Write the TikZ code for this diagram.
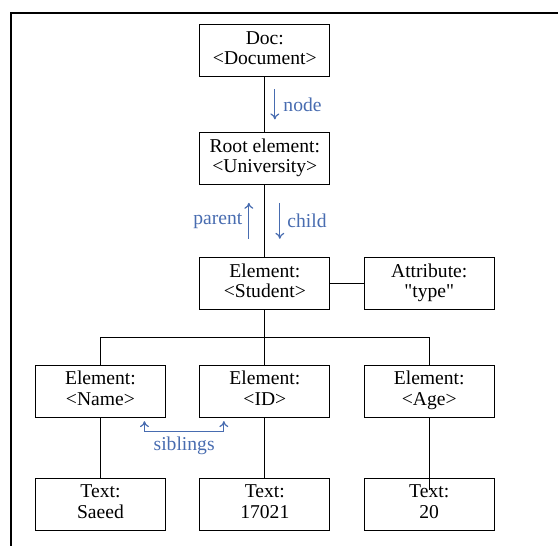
\documentclass[tikz,border=0pt]{standalone}
\usepackage{fontspec}
\setmainfont{Liberation Serif}[Ligatures=TeXOff]
\usetikzlibrary{matrix, calc, arrows.meta}

\definecolor{domblue}{RGB}{72,108,176}
\newcommand{\twoline}[2]{\begin{tabular}{@{}c@{}}#1\\#2\end{tabular}}

\begin{document}
\begin{tikzpicture}[
				x=1pt, y=1pt,
				font=\fontsize{19.6}{20.6}\selectfont,
				>={To[length=6pt, width=9pt]},
				box/.style={draw, line width=0.9pt, minimum width=130pt, minimum height=52pt, inner sep=0pt, anchor=center},
				link/.style={line width=0.8pt},
				ptr/.style={->, line width=1.2pt, domblue},
				tag/.style={text=domblue, inner sep=0pt}
				]
				
				\useasboundingbox (0,0) rectangle (558,-546);
				% frame: only the top and left edges show
				\draw[line width=2.2pt] (10.6,-546) -- (10.6,-12.8) -- (558,-12.8);
				
				\matrix (tree) [matrix of nodes, ampersand replacement=\&, column sep=33.5pt, row sep=55pt,
					anchor=north west, inner sep=0pt, outer sep=0pt] at (35,-24)
				{
					\& |[box] (doc)| \twoline{Doc:}{<Document>} \& \\
					\& |[box] (root)| \twoline{Root element:}{<University>} \& \\[17pt]
					\& |[box] (student)| \twoline{Element:}{<Student>} \& 
					|[box] (attr)| \twoline{Attribute:}{"type"} \\
					|[box] (name)| \twoline{Element:}{<Name>} \& 
					|[box] (id)| \twoline{Element:}{<ID>} \& 
					|[box] (age)| \twoline{Element:}{<Age>} \\[5pt]
					|[box] (t1)| \twoline{Text:}{Saeed} \& 
					|[box] (t2)| \twoline{Text:}{17021} \& 
					|[box] (t3)| \twoline{Text:}{20} \\
				};
				
				\draw[link] (doc) -- (root);
				\draw[link] (root) -- (student);
				\draw[link] (student) -- (attr);
				\draw[link] (student) -- (id);
				\draw[link] (name.north) |- ($(student.south)!.5!(id.north)$) -| (age.north);
				\draw[link] (name) -- (t1);
				\draw[link] (id) -- (t2);
				\draw[link] (age.south) -- ([yshift=-12pt]t3.north);
				
				% navigation hints
				\draw[ptr] ($(doc.south)!.5!(root.north)+(10,15)$) -- ++(0,-30)
					node[midway, right=8pt, tag] {node};
				\draw[ptr] ($(root.south)!.5!(student.north)+(-16,-18)$) -- ++(0,36)
					node[midway, left=6pt, tag] {parent};
				\draw[ptr] ($(root.south)!.5!(student.north)+(15,18)$) -- ++(0,-36)
					node[midway, right=7pt, tag] {child};
				\draw[ptr, <->] ([xshift=-21pt, yshift=-4pt]name.south east) -- ++(0,-10)
					-| node[pos=.25, below=5pt, tag] {siblings} ([xshift=24pt, yshift=-4pt]id.south west);
				\end{tikzpicture}
\end{document}
